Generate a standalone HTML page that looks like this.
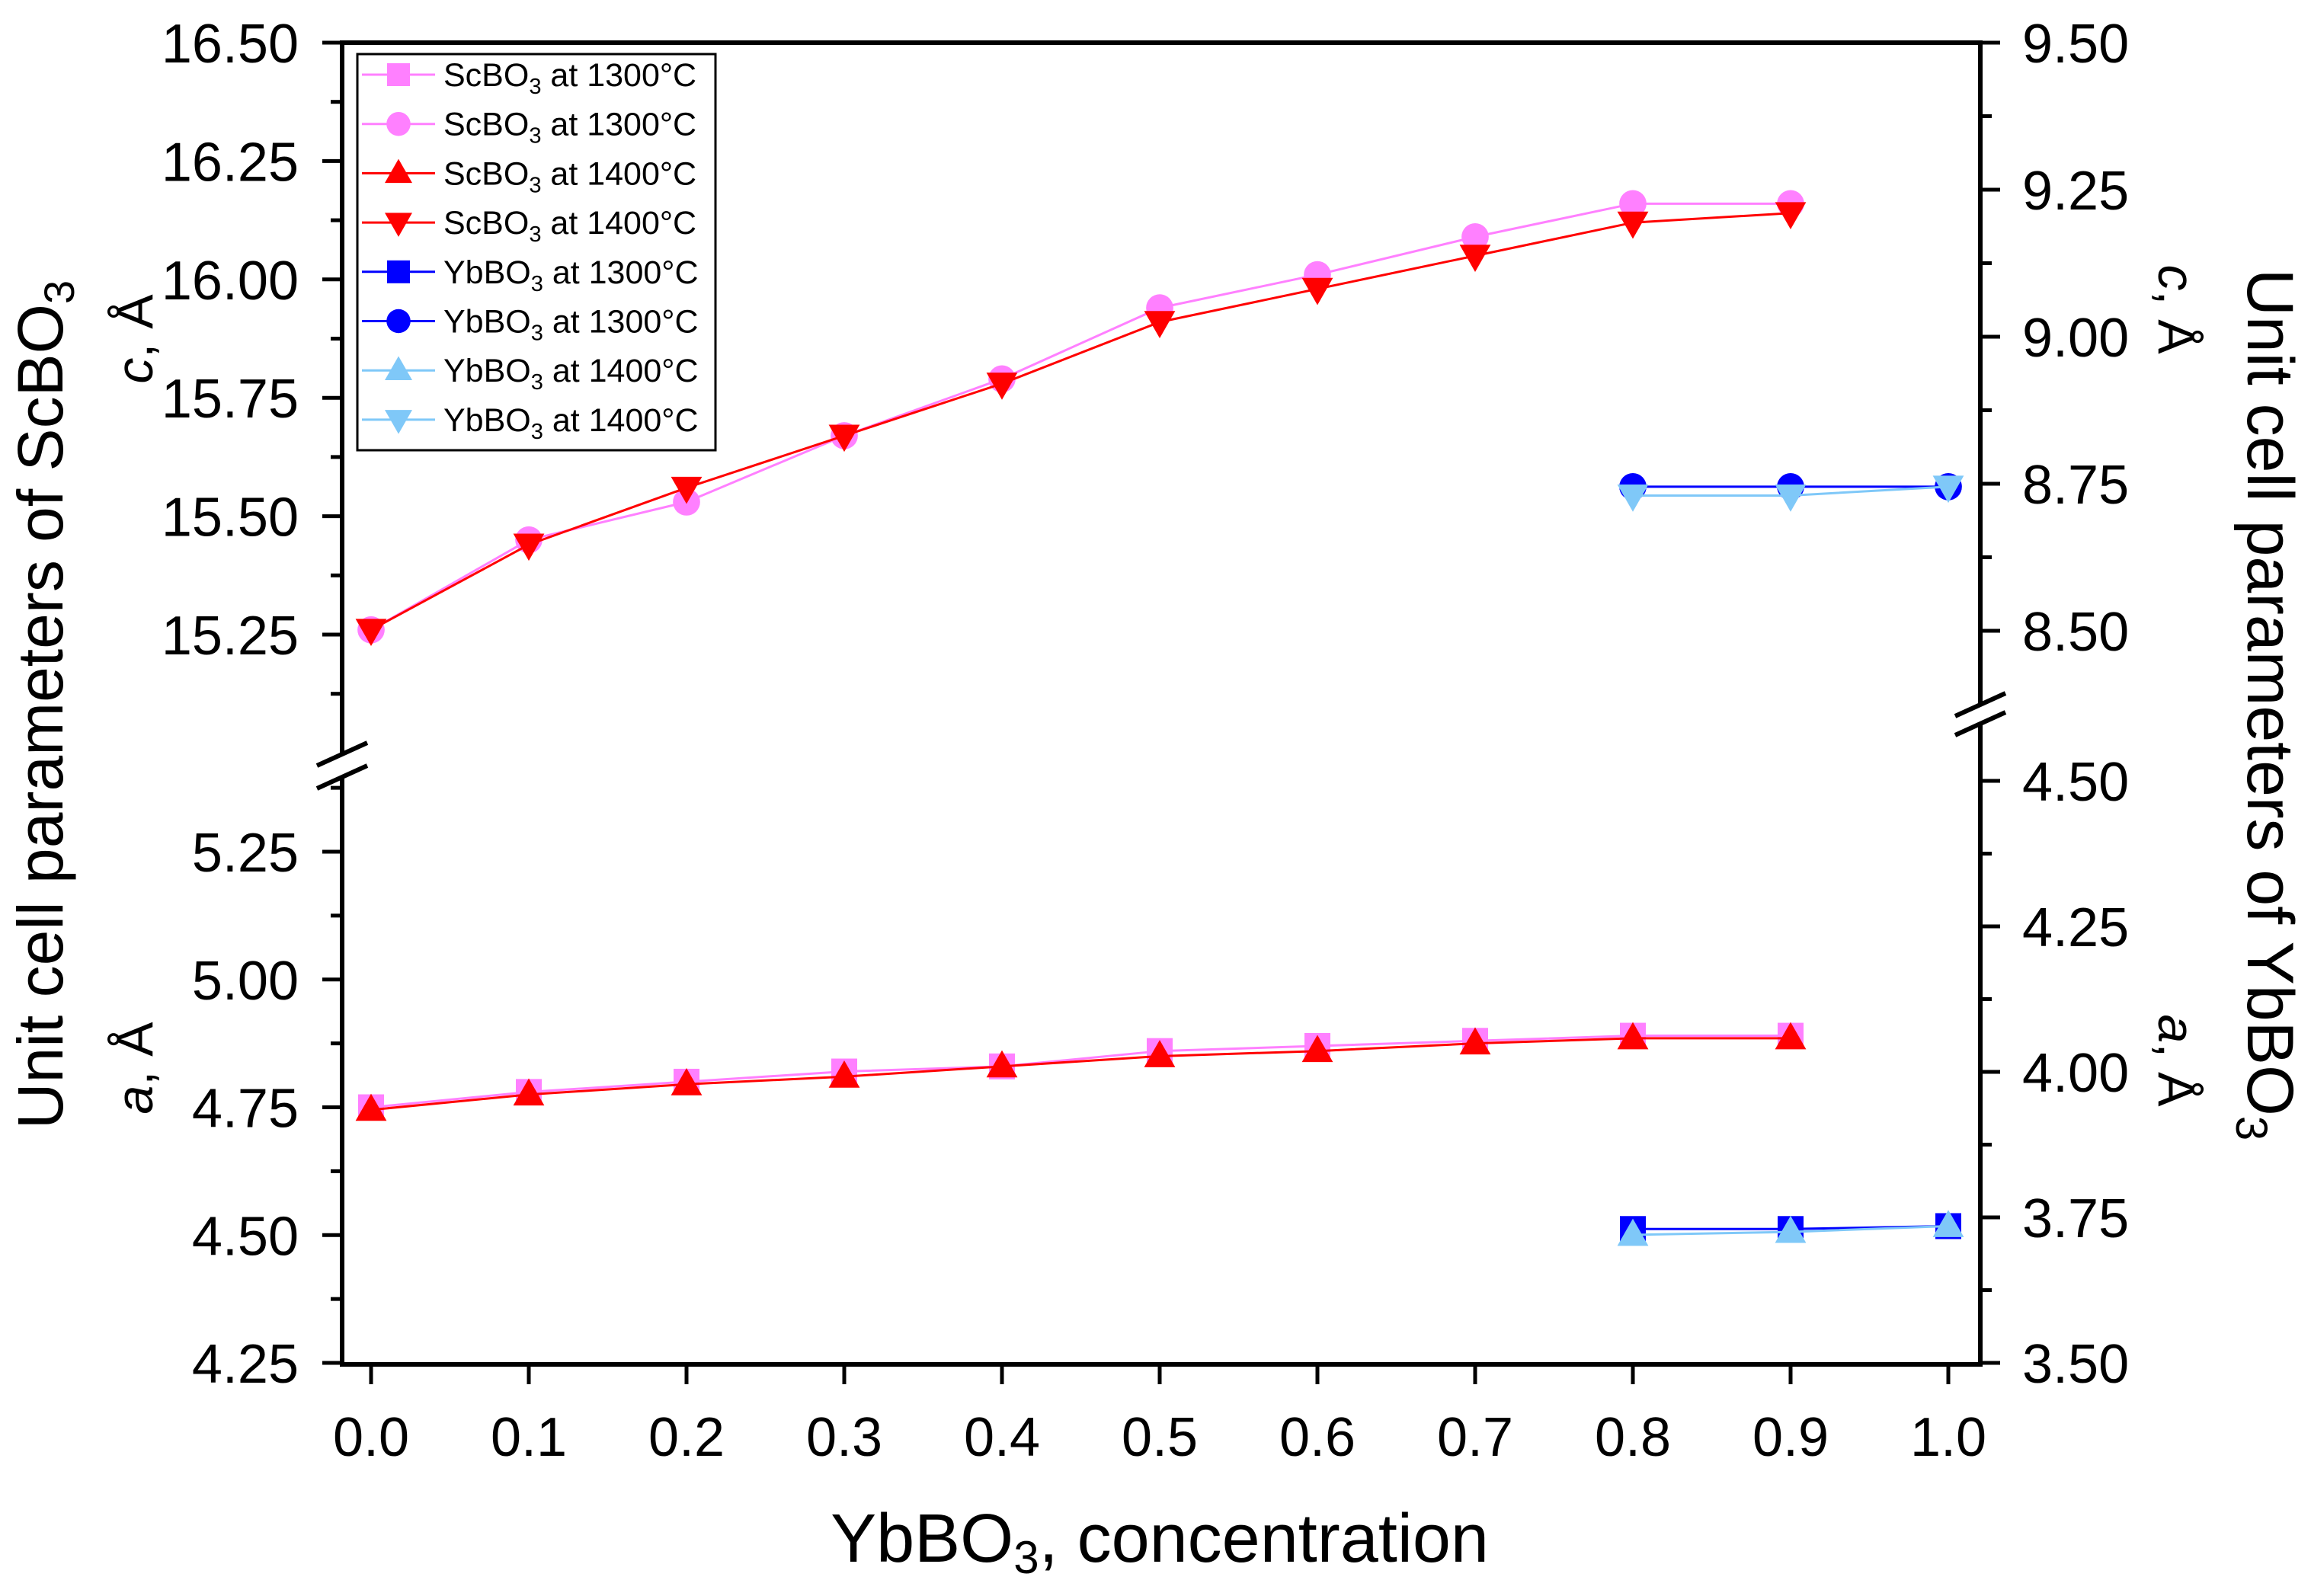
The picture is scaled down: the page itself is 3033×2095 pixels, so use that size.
<!DOCTYPE html>
<html><head><meta charset="utf-8"><style>
html,body{margin:0;padding:0;background:#fff;}
svg{display:block;font-family:"Liberation Sans",Arial,sans-serif;}
</style></head><body>
<svg id="chart" width="3033" height="2095" viewBox="0 0 3033 2095" xmlns="http://www.w3.org/2000/svg">
<g id="axes"></g>
<g id="series"></g>
<g id="legend"></g>
<text x="1522" y="2050" font-size="90" text-anchor="middle">YbBO<tspan font-size="60" dy="15">3</tspan><tspan dy="-15">, concentration</tspan></text>
<text transform="translate(82,925) rotate(-90)" font-size="84" text-anchor="middle">Unit cell parameters of ScBO<tspan font-size="56" dy="15">3</tspan></text>
<text transform="translate(200,445) rotate(-90)" font-size="68" text-anchor="middle" font-style="italic">c<tspan font-style="normal">, Å</tspan></text>
<text transform="translate(200,1402) rotate(-90)" font-size="68" text-anchor="middle" font-style="italic">a<tspan font-style="normal">, Å</tspan></text>
<text transform="translate(2950,925) rotate(90)" font-size="86" text-anchor="middle">Unit cell parameters of YbBO<tspan font-size="58" dy="15">3</tspan></text>
<text transform="translate(2833,406) rotate(90)" font-size="68" text-anchor="middle" font-style="italic">c<tspan font-style="normal">, Å</tspan></text>
<text transform="translate(2833,1392) rotate(90)" font-size="68" text-anchor="middle" font-style="italic">a<tspan font-style="normal">, Å</tspan></text>
</svg>
<script>
const xValues=[0,0.1,0.2,0.3,0.4,0.5,0.6,0.7,0.8,0.9];
const xValuesYb=[0.8,0.9,1.0];
const scC1300=[15.26,15.45,15.53,15.67,15.79,15.94,16.01,16.09,16.16,16.16];
const scC1400=[15.26,15.44,15.56,15.67,15.78,15.91,15.98,16.05,16.12,16.14];
const scA1300=[4.75,4.78,4.80,4.82,4.83,4.86,4.87,4.88,4.89,4.89];
const scA1400=[4.745,4.775,4.795,4.81,4.83,4.85,4.86,4.875,4.885,4.885];
const ybC1300=[8.745,8.745,8.745];
const ybC1400=[8.73,8.73,8.745];
const ybA1300=[3.73,3.73,3.735];
const ybA1400=[3.72,3.725,3.735];
const xTicks=[0,0.1,0.2,0.3,0.4,0.5,0.6,0.7,0.8,0.9,1.0];
const leftUpperTicks=[15.25,15.5,15.75,16.0,16.25,16.5];
const leftLowerTicks=[4.25,4.5,4.75,5.0,5.25];
const rightUpperTicks=[8.5,8.75,9.0,9.25,9.5];
const rightLowerTicks=[3.5,3.75,4.0,4.25,4.5];
const legendLabels=["ScBO|3| at 1300°C","ScBO|3| at 1300°C","ScBO|3| at 1400°C","ScBO|3| at 1400°C","YbBO|3| at 1300°C","YbBO|3| at 1300°C","YbBO|3| at 1400°C","YbBO|3| at 1400°C"];

const NS="http://www.w3.org/2000/svg";
const L=449,R=2599,T=56,B=1791;
const X=v=>487+v*2070;
const YLU=v=>56+(16.5-v)*621.6;
const YLL=v=>1118+(5.25-v)*671;
const YRU=v=>56+(9.5-v)*772;
const YRL=v=>1025+(4.5-v)*764;
function mk(tag,attrs,parent){const e=document.createElementNS(NS,tag);for(const k in attrs)e.setAttribute(k,attrs[k]);parent.appendChild(e);return e;}
const ax=document.getElementById('axes');
const st={stroke:'#000','stroke-width':6,fill:'none'};
let e;
e=mk('line',Object.assign({x1:L-3,y1:T,x2:R+3,y2:T},st),ax);

e=mk('line',Object.assign({x1:L-3,y1:B,x2:R+3,y2:B},st),ax);

e=mk('line',Object.assign({x1:L,y1:T,x2:L,y2:990},st),ax);

e=mk('line',Object.assign({x1:L,y1:1020,x2:L,y2:B},st),ax);

e=mk('line',Object.assign({x1:R,y1:T,x2:R,y2:925},st),ax);

e=mk('line',Object.assign({x1:R,y1:950,x2:R,y2:B},st),ax);

[[L,990],[L,1020],[R,925],[R,950]].forEach(p=>{
 e=mk('line',{x1:p[0]-33,y1:p[1]+15,x2:p[0]+33,y2:p[1]-15,stroke:'#000','stroke-width':6},ax);
 
});
function label(x,y,txt,anchor,name){const t=mk('text',{x:x,y:y,'font-size':72,'text-anchor':anchor},ax);t.textContent=txt;}
xTicks.forEach((v,i)=>{
 e=mk('line',{x1:X(v),y1:B,x2:X(v),y2:B+26,stroke:'#000','stroke-width':5},ax);
 
 label(X(v),B+120,v.toFixed(1),'middle','x-tick-label');
});
function yTicks(ticks,f,x,dir,lo,hi,anchor,lx){
 ticks.forEach((v,i)=>{
  e=mk('line',{x1:x,y1:f(v),x2:x+dir*26,y2:f(v),stroke:'#000','stroke-width':5},ax);
  
  label(lx,f(v)+26,v.toFixed(2),anchor,'y-tick-label');
  const ym=f(v+0.125);
  if(ym>=lo&&ym<=hi){e=mk('line',{x1:x,y1:ym,x2:x+dir*15,y2:ym,stroke:'#000','stroke-width':5},ax);
  }
 });
 const m0=f(ticks[0]-0.125);
 if(m0>=lo&&m0<=hi){e=mk('line',{x1:x,y1:m0,x2:x+dir*15,y2:m0,stroke:'#000','stroke-width':5},ax);
 }
}
yTicks(leftUpperTicks,YLU,L,-1,T+5,985,'end',392);
yTicks(leftLowerTicks,YLL,L,-1,1025,B-5,'end',392);
yTicks(rightUpperTicks,YRU,R,1,T+5,920,'start',2654);
yTicks(rightLowerTicks,YRL,R,1,955,B-5,'start',2654);

function marker(g,shape,cx,cy,color,s){
 let m;
 if(shape==='square')m=mk('rect',{x:cx-s,y:cy-s,width:2*s,height:2*s,fill:color},g);
 else if(shape==='circle')m=mk('circle',{cx:cx,cy:cy,r:s*1.05,fill:color},g);
 else if(shape==='up')m=mk('polygon',{points:`${cx},${cy-s*1.25} ${cx+s*1.2},${cy+s*0.85} ${cx-s*1.2},${cy+s*0.85}`,fill:color},g);
 else m=mk('polygon',{points:`${cx},${cy+s*1.25} ${cx+s*1.2},${cy-s*0.85} ${cx-s*1.2},${cy-s*0.85}`,fill:color},g);
 
 
}
const sg=document.getElementById('series');
function series(name,xs,ys,f,color,shape){
 const g=mk('g',{},sg);
 
 
 const pts=xs.map((x,i)=>X(x)+','+f(ys[i])).join(' ');
 const p=mk('polyline',{points:pts,fill:'none',stroke:color,'stroke-width':3},g);
 
 
 xs.forEach((x,i)=>marker(g,shape,X(x),f(ys[i]),color,17));
}
const PINK='#ff80ff',RED='#ff0000',BLUE='#0000ff',LB='#7fc8f8';
series('scbo3-a-1300',xValues,scA1300,YLL,PINK,'square');
series('scbo3-c-1300',xValues,scC1300,YLU,PINK,'circle');
series('scbo3-a-1400',xValues,scA1400,YLL,RED,'up');
series('scbo3-c-1400',xValues,scC1400,YLU,RED,'down');
series('ybbo3-a-1300',xValuesYb,ybA1300,YRL,BLUE,'square');
series('ybbo3-c-1300',xValuesYb,ybC1300,YRU,BLUE,'circle');
series('ybbo3-a-1400',xValuesYb,ybA1400,YRL,LB,'up');
series('ybbo3-c-1400',xValuesYb,ybC1400,YRU,LB,'down');

const lg=document.getElementById('legend');
e=mk('rect',{x:469,y:71,width:470,height:520,fill:'#fff',stroke:'#000','stroke-width':3},lg);

const lc=[PINK,PINK,RED,RED,BLUE,BLUE,LB,LB],ls=['square','circle','up','down','square','circle','up','down'];
legendLabels.forEach((lab,i)=>{
 const y=98+i*64.7;
 const g=mk('g',{},lg);
 
 
 mk('line',{x1:475,y1:y,x2:571,y2:y,stroke:lc[i],'stroke-width':3},g);
 marker(g,ls[i],523,y,lc[i],15);
 const parts=lab.split('|');
 const t=mk('text',{x:582,y:y+15,'font-size':43},g);
 
 
 const a=mk('tspan',{},t);a.textContent=parts[0];
 const b=mk('tspan',{'font-size':29,dy:10},t);b.textContent=parts[1];
 const c=mk('tspan',{dy:-10},t);c.textContent=parts[2];
});
</script>
</body></html>
